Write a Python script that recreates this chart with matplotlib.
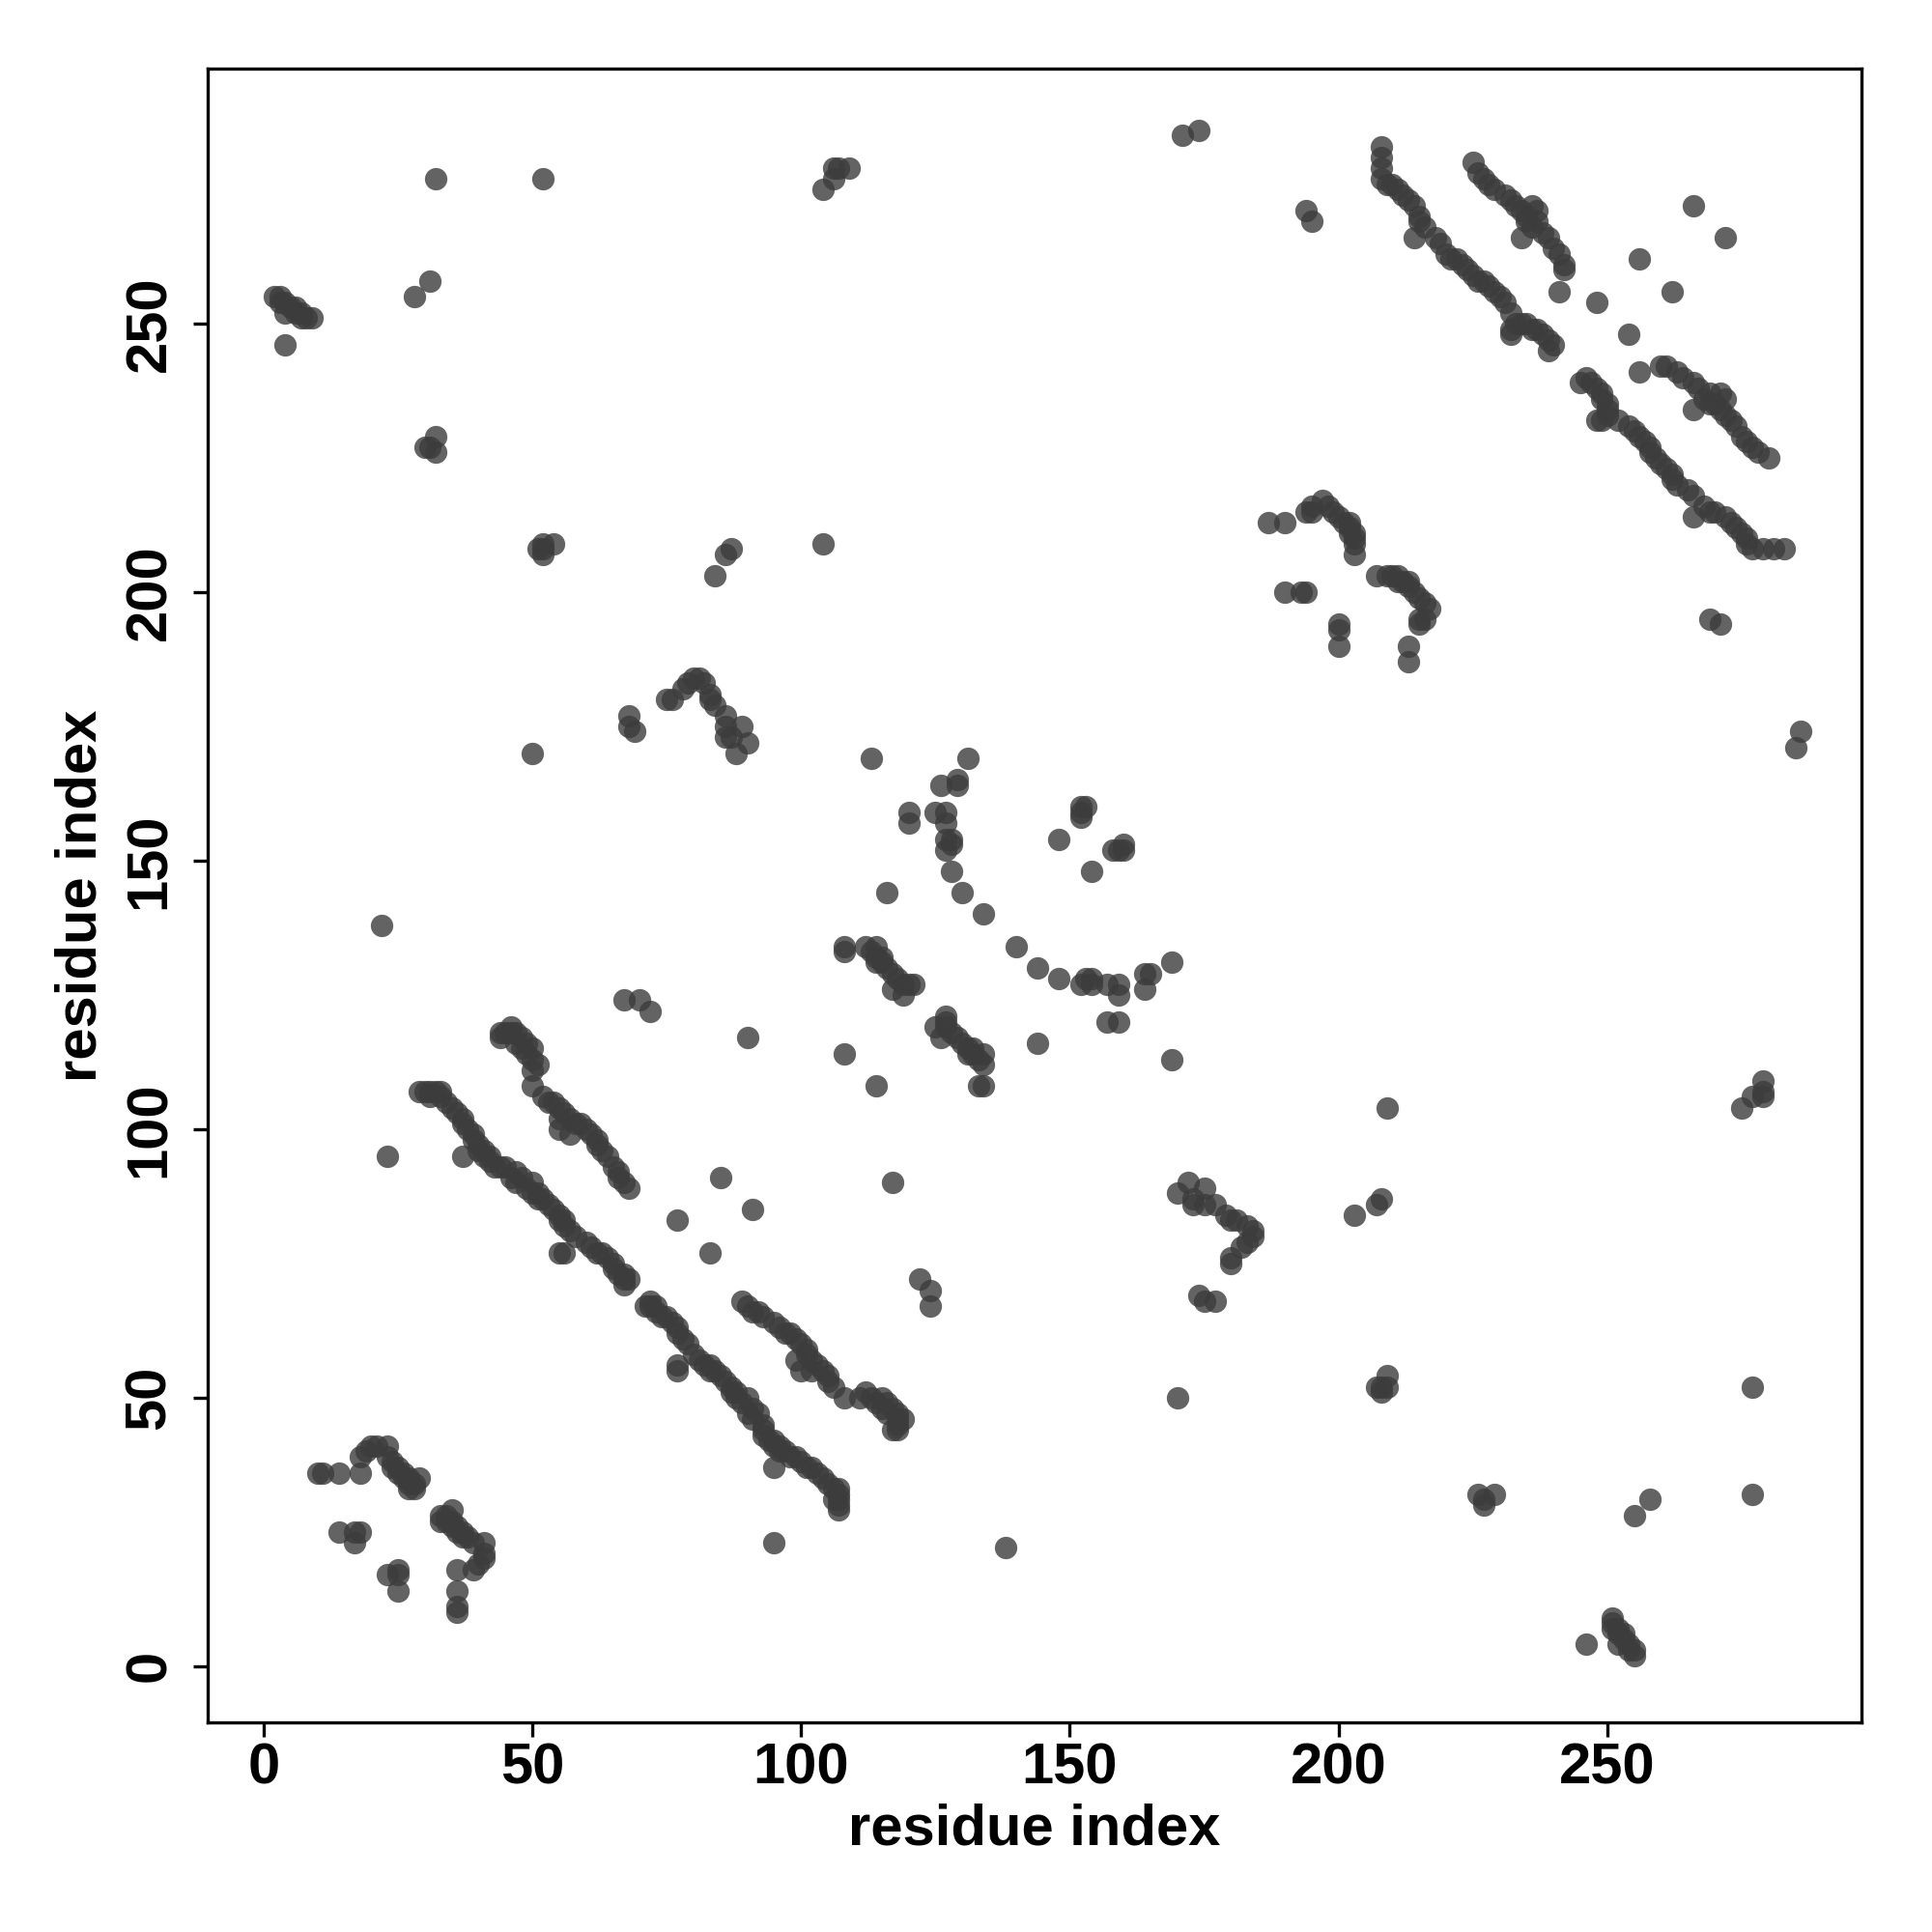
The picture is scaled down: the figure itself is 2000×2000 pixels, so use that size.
import numpy as np
import matplotlib.pyplot as plt

plt.rcParams['font.family'] = ['Liberation Sans', 'DejaVu Sans']

# contact map: residue pairs (i, j) with i < j.
# the map is symmetric, so every pair is drawn at (i, j) and (j, i)
nterm_cluster = [(10, 36), (11, 36), (14, 36), (18, 36), (18, 39), (19, 40), (20, 41),
                 (21, 41), (23, 41), (23, 39), (24, 38), (24, 37), (25, 37), (25, 36),
                 (26, 36), (26, 35), (27, 35), (27, 34), (28, 34), (29, 35), (27, 33),
                 (28, 33), (14, 25), (17, 25), (18, 25), (17, 23)]

sheet_a = [(29, 107), (30, 107), (31, 107), (31, 106), (32, 107), (33, 106), (33, 107),
           (34, 105), (35, 104), (36, 103), (37, 102), (37, 101), (38, 100), (39, 99),
           (39, 98), (40, 97), (40, 96), (41, 96), (41, 95), (42, 95), (42, 94), (43, 93),
           (44, 93), (45, 93), (46, 91), (47, 92), (47, 90), (48, 91), (49, 89), (50, 90),
           (50, 88), (51, 87), (51, 88), (52, 87), (53, 86), (54, 85), (55, 84), (55, 83),
           (56, 83), (56, 82), (57, 81), (58, 80), (60, 79), (61, 78), (62, 77), (63, 77),
           (64, 76), (65, 75), (65, 74), (66, 73), (67, 73), (67, 72), (68, 72), (67, 71),
           (37, 95), (55, 77), (56, 77)]

sheet_b = [(50, 108), (52, 106), (53, 105), (54, 105), (55, 104), (55, 102), (56, 103),
           (57, 102), (58, 101), (59, 101), (60, 100), (61, 99), (62, 98), (62, 97),
           (63, 96), (64, 95), (65, 93), (66, 92), (66, 91), (67, 90), (68, 89), (57, 99),
           (55, 100)]

hairpin_b = [(44, 118), (45, 118), (46, 119), (46, 118), (47, 118), (47, 116), (48, 117),
             (48, 115), (49, 116), (49, 114), (50, 115), (50, 113), (51, 112), (50, 111),
             (44, 117)]

arc_mid = [(68, 177), (69, 174), (68, 175), (75, 180), (76, 180), (78, 182), (79, 183),
           (80, 184), (81, 184), (82, 183), (83, 181), (83, 180), (84, 179), (86, 177),
           (86, 175), (86, 173), (87, 173), (89, 175), (90, 172), (88, 170)]

helix_pair = [(112, 134), (113, 133), (114, 134), (114, 132), (115, 132), (114, 131),
              (115, 131), (116, 130), (117, 129), (118, 128), (119, 127), (120, 127),
              (121, 127), (119, 125), (117, 126), (108, 134), (108, 133)]

loop_mid = [(128, 148), (127, 152), (128, 153), (128, 154), (127, 154), (127, 157),
            (127, 159), (125, 159), (126, 164), (129, 164), (129, 165), (131, 169),
            (120, 157), (120, 159), (130, 144), (116, 144), (113, 169), (134, 140),
            (148, 154), (152, 158), (152, 159), (152, 160), (153, 160)]

sheet_c = [(208, 283), (208, 281), (208, 279), (208, 277), (209, 276), (210, 276),
           (211, 275), (212, 274), (213, 273), (214, 272), (215, 270), (215, 269),
           (214, 266), (216, 268), (218, 266), (219, 265), (220, 263), (221, 262),
           (222, 262), (223, 261), (224, 260), (225, 259), (226, 258), (227, 258),
           (228, 257), (229, 256), (230, 255), (231, 254), (232, 252), (233, 250),
           (234, 250), (235, 250), (236, 249), (237, 249), (238, 248), (239, 247),
           (240, 246), (232, 249), (239, 245), (232, 248)]

sheet_d = [(225, 280), (226, 278), (227, 277), (228, 276), (229, 275), (231, 274),
           (232, 273), (233, 272), (234, 271), (236, 272), (237, 271), (235, 269),
           (236, 268), (238, 267), (239, 266), (240, 264), (241, 263), (242, 261),
           (242, 260), (234, 266), (237, 269), (235, 270)]

cterm_cluster = [(194, 215), (195, 216), (195, 215), (197, 217), (198, 216), (199, 215),
                 (200, 214), (201, 213), (202, 213), (202, 212), (202, 211), (203, 211),
                 (203, 210), (203, 209), (203, 207), (187, 213), (190, 213), (190, 200),
                 (193, 200), (194, 200)]

long_range = [(2, 255), (3, 254), (3, 255), (4, 254), (4, 252), (5, 253), (6, 253),
              (6, 252), (7, 252), (7, 251), (8, 251), (9, 251), (4, 246),
              (32, 277), (52, 277), (28, 255), (31, 258),
              (32, 226), (31, 227), (32, 229), (30, 227),
              (51, 208), (52, 207), (52, 208), (52, 209), (54, 209),
              (104, 275), (106, 277), (106, 279), (107, 279), (109, 279),
              (171, 285), (174, 286), (194, 271), (195, 269),
              (84, 203), (86, 207), (87, 208), (104, 209),
              (50, 170), (22, 138), (23, 95),
              (67, 124), (70, 124), (72, 122), (77, 83), (85, 91), (90, 117), (108, 114),
              (266, 272), (256, 262), (241, 256), (248, 254)]

groups = [nterm_cluster, sheet_a, sheet_b, hairpin_b, arc_mid, helix_pair, loop_mid,
          sheet_c, sheet_d, cterm_cluster, long_range]
pairs = np.array([p for g in groups for p in g])
res_i = pairs[:, 0]
res_j = pairs[:, 1]

fig = plt.figure(figsize=(10, 10), dpi=200)
ax = fig.add_axes([0.1075, 0.1085, 0.856, 0.856])

ax.scatter(np.concatenate([res_i, res_j]), np.concatenate([res_j, res_i]),
           s=70, c='#3c3c3c', alpha=0.8, linewidths=0)

ax.set_xlim(-10.4, 297.3)
ax.set_ylim(-10.5, 297.5)

ticks = [0, 50, 100, 150, 200, 250]
ax.set_xticks(ticks)
ax.set_yticks(ticks)
ax.set_xticklabels([str(t) for t in ticks], fontsize=21.5, fontweight='bold')
ax.set_yticklabels([str(t) for t in ticks], fontsize=21.5, fontweight='bold',
                   rotation=90, va='center')
ax.tick_params(axis='both', length=5.5, width=1.2, direction='out', color='black')
ax.tick_params(axis='x', pad=2)
ax.tick_params(axis='y', pad=6)
for s in ax.spines.values():
    s.set_linewidth(1.2)

fig.text(0.5355, 0.0455, 'residue index', fontsize=21.5, fontweight='bold',
         ha='center', va='baseline')
fig.text(0.05, 0.5365, 'residue index', fontsize=21.5, fontweight='bold',
         ha='center', va='baseline', rotation=90, rotation_mode='anchor')

fig.savefig('out.png', dpi=200, facecolor='white')
